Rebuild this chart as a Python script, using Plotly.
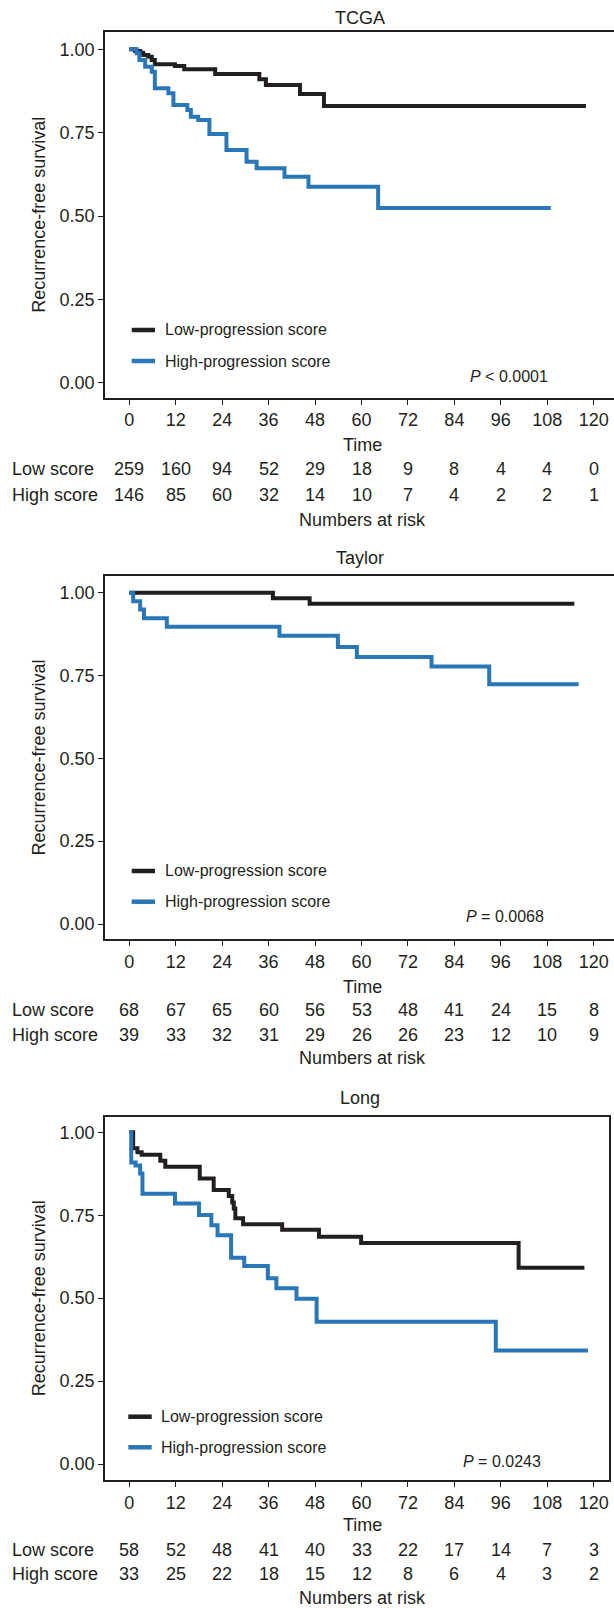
import plotly.graph_objects as go

# ---------------- data ----------------
time_ticks = [0, 12, 24, 36, 48, 60, 72, 84, 96, 108, 120]
surv_ticks = [0.0, 0.25, 0.50, 0.75, 1.00]
surv_tick_labels = ["0.00", "0.25", "0.50", "0.75", "1.00"]

panel_titles = ["TCGA", "Taylor", "Long"]
p_labels = ["<i>P</i> < 0.0001", "<i>P</i> = 0.0068", "<i>P</i> = 0.0243"]
group_labels = ["Low-progression score", "High-progression score"]
risk_row_labels = ["Low score", "High score"]

# TCGA
tcga_low_t = [0, 1.5, 2.8, 3.6, 4.9, 5.8, 6.6, 11.8, 14.2, 22.2, 33.6, 35.3, 44.1, 50.3]
tcga_low_s = [1.0, 0.995, 0.99, 0.983, 0.978, 0.968, 0.955, 0.95, 0.94, 0.926, 0.91, 0.893, 0.866, 0.83]
tcga_low_end = 118.0
tcga_high_t = [0, 1.9, 2.6, 4.1, 5.8, 6.6, 10.1, 11.4, 15.0, 15.9, 17.8, 20.7, 25.1, 30.3, 32.9, 40.1, 46.3, 64.3]
tcga_high_s = [1.0, 0.988, 0.968, 0.948, 0.933, 0.883, 0.868, 0.833, 0.818, 0.798, 0.788, 0.746, 0.698, 0.663, 0.643, 0.618, 0.588, 0.524]
tcga_high_end = 108.9
tcga_risk_low = [259, 160, 94, 52, 29, 18, 9, 8, 4, 4, 0]
tcga_risk_high = [146, 85, 60, 32, 14, 10, 7, 4, 2, 2, 1]

# Taylor
taylor_low_t = [0, 37.1, 46.6]
taylor_low_s = [1.0, 0.983, 0.967]
taylor_low_end = 115.0
taylor_high_t = [0, 1.0, 2.8, 3.8, 9.7, 38.8, 53.9, 58.8, 78.1, 93.0]
taylor_high_s = [1.0, 0.974, 0.949, 0.923, 0.897, 0.87, 0.836, 0.806, 0.777, 0.724]
taylor_high_end = 116.1
taylor_risk_low = [68, 67, 65, 60, 56, 53, 48, 41, 24, 15, 8]
taylor_risk_high = [39, 33, 32, 31, 29, 26, 26, 23, 12, 10, 9]

# Long
long_low_t = [0, 1.0, 2.1, 3.2, 8.0, 9.3, 18.2, 21.8, 25.7, 26.6, 27.0, 27.4, 29.4, 39.5, 49.0, 59.9, 100.6]
long_low_s = [1.0, 0.952, 0.94, 0.932, 0.914, 0.896, 0.861, 0.826, 0.808, 0.788, 0.77, 0.741, 0.723, 0.706, 0.685, 0.666, 0.592]
long_low_end = 117.6
long_high_t = [0, 0.5, 1.6, 2.8, 3.4, 11.8, 18.0, 21.2, 22.8, 26.3, 29.7, 35.8, 38.0, 43.2, 48.4, 94.7]
long_high_s = [1.0, 0.909, 0.9, 0.876, 0.815, 0.785, 0.751, 0.72, 0.69, 0.622, 0.597, 0.56, 0.53, 0.498, 0.429, 0.342]
long_high_end = 118.5
long_risk_low = [58, 52, 48, 41, 40, 33, 22, 17, 14, 7, 3]
long_risk_high = [33, 25, 22, 18, 15, 12, 8, 6, 4, 3, 2]

# ---------------- style / layout ----------------
W, H = 614, 1608
FONT = "Liberation Sans, Arial, Helvetica, sans-serif"
INK = "#231f20"
C_LOW = "#231f20"
C_HIGH = "#2977b8"

T0_PX = 129.3      # pixel of time 0
PX_PER_MONTH = 3.87

panels = [
    dict(box=(105, 614, 31.7, 397.7), y1px=49.3, y0px=382.7, right_border=False,
         title_y=18.3, time_y=445, low_y=469, high_y=495, nar_y=520,
         leg_y=(330, 361), leg_x=(131.7, 155, 162.7), p_xy=(550, 376.7),
         curves=((tcga_low_t, tcga_low_s, tcga_low_end), (tcga_high_t, tcga_high_s, tcga_high_end)),
         risk=(tcga_risk_low, tcga_risk_high)),
    dict(box=(105, 614, 576, 939), y1px=592.7, y0px=924, right_border=False,
         title_y=558.3, time_y=986.7, low_y=1010, high_y=1035, nar_y=1058,
         leg_y=(871, 901.7), leg_x=(131.7, 155, 162.7), p_xy=(545.7, 916.7),
         curves=((taylor_low_t, taylor_low_s, taylor_low_end), (taylor_high_t, taylor_high_s, taylor_high_end)),
         risk=(taylor_risk_low, taylor_risk_high)),
    dict(box=(105, 609.3, 1116.7, 1480), y1px=1132.3, y0px=1464, right_border=True,
         title_y=1098.3, time_y=1525, low_y=1550, high_y=1574, nar_y=1598,
         leg_y=(1416.7, 1447.3), leg_x=(128.3, 151.7, 159.3), p_xy=(542.7, 1461.7),
         curves=((long_low_t, long_low_s, long_low_end), (long_high_t, long_high_s, long_high_end)),
         risk=(long_risk_low, long_risk_high)),
]


def px(x):
    return x / W


def py(y):
    return 1 - y / H


fig = go.Figure()
annotations = []
shapes = []
colors = [C_LOW, C_HIGH]

for i, p in enumerate(panels):
    n = "" if i == 0 else str(i + 1)
    xa, ya = "x" + n, "y" + n
    x0, x1, ytop, ybot = p["box"]
    xr = [(x0 - T0_PX) / PX_PER_MONTH, (x1 - T0_PX) / PX_PER_MONTH]
    per = p["y0px"] - p["y1px"]
    yr = [-(ybot - p["y0px"]) / per, 1 + (p["y1px"] - ytop) / per]

    for (t, s, end), col in zip(p["curves"], colors):
        fig.add_trace(go.Scatter(
            x=list(t) + [end], y=list(s) + [s[-1]], mode="lines",
            line=dict(shape="hv", width=4, color=col),
            xaxis=xa, yaxis=ya, showlegend=False, hoverinfo="skip"))

    axis_common = dict(showgrid=False, zeroline=False, showline=True, linecolor=INK, linewidth=1.8,
                       ticks="outside", ticklen=5, tickwidth=1.3, tickcolor=INK,
                       tickfont=dict(family=FONT, size=18, color=INK))
    fig.layout["xaxis" + n] = dict(domain=[px(x0), px(x1)], range=xr, anchor=ya,
                                   tickvals=time_ticks, ticktext=[str(v) for v in time_ticks],
                                   mirror=True, ticklabelstandoff=0, **axis_common)
    fig.layout["yaxis" + n] = dict(domain=[py(ybot), py(ytop)], range=yr, anchor=xa,
                                   tickvals=surv_ticks, ticktext=surv_tick_labels,
                                   mirror=p["right_border"], **axis_common)

    # panel title
    annotations.append(dict(text=panel_titles[i], x=px(360), y=py(p["title_y"]), xref="paper", yref="paper",
                            showarrow=False, xanchor="center", yanchor="middle",
                            font=dict(family=FONT, size=18, color=INK)))
    # axis titles
    annotations.append(dict(text="Time", x=px(362), y=py(p["time_y"]), xref="paper", yref="paper",
                            showarrow=False, xanchor="center", yanchor="middle",
                            font=dict(family=FONT, size=18, color=INK)))
    annotations.append(dict(text="Recurrence-free survival", x=px(39), y=py((ytop + ybot) / 2),
                            xref="paper", yref="paper", textangle=-90,
                            showarrow=False, xanchor="center", yanchor="middle",
                            font=dict(family=FONT, size=18, color=INK)))
    annotations.append(dict(text="Numbers at risk", x=px(362), y=py(p["nar_y"]), xref="paper", yref="paper",
                            showarrow=False, xanchor="center", yanchor="middle",
                            font=dict(family=FONT, size=18, color=INK)))
    # risk table
    for lab, row, yy in zip(risk_row_labels, p["risk"], (p["low_y"], p["high_y"])):
        annotations.append(dict(text=lab, x=px(9.5), y=py(yy), xref="paper", yref="paper",
                                showarrow=False, xanchor="left", yanchor="middle",
                                font=dict(family=FONT, size=18, color=INK)))
        for m, v in zip(time_ticks, row):
            annotations.append(dict(text=str(v), x=m, y=py(yy), xref=xa, yref="paper",
                                    showarrow=False, xanchor="center", yanchor="middle",
                                    font=dict(family=FONT, size=18, color=INK)))
    # legend
    lx0, lx1, ltx = p["leg_x"]
    for lab, col, yy in zip(group_labels, colors, p["leg_y"]):
        shapes.append(dict(type="line", xref="paper", yref="paper", x0=px(lx0), x1=px(lx1),
                           y0=py(yy), y1=py(yy), line=dict(color=col, width=4.5)))
        annotations.append(dict(text=lab, x=px(ltx), y=py(yy), xref="paper", yref="paper",
                                showarrow=False, xanchor="left", yanchor="middle",
                                font=dict(family=FONT, size=16, color=INK)))
    # p-value
    annotations.append(dict(text=p_labels[i], x=px(p["p_xy"][0]), y=py(p["p_xy"][1]),
                            xref="paper", yref="paper", showarrow=False,
                            xanchor="right", yanchor="middle",
                            font=dict(family=FONT, size=16, color=INK)))

fig.update_layout(width=W, height=H, margin=dict(l=0, r=0, t=0, b=0),
                  paper_bgcolor="white", plot_bgcolor="white",
                  annotations=annotations, shapes=shapes, showlegend=False,
                  font=dict(family=FONT, color=INK))

fig.write_html(
    "out.html",
    config={"displayModeBar": False},
    post_script="document.body.style.margin='0';document.body.style.overflow='hidden';"
                "document.documentElement.style.overflow='hidden';",
)
